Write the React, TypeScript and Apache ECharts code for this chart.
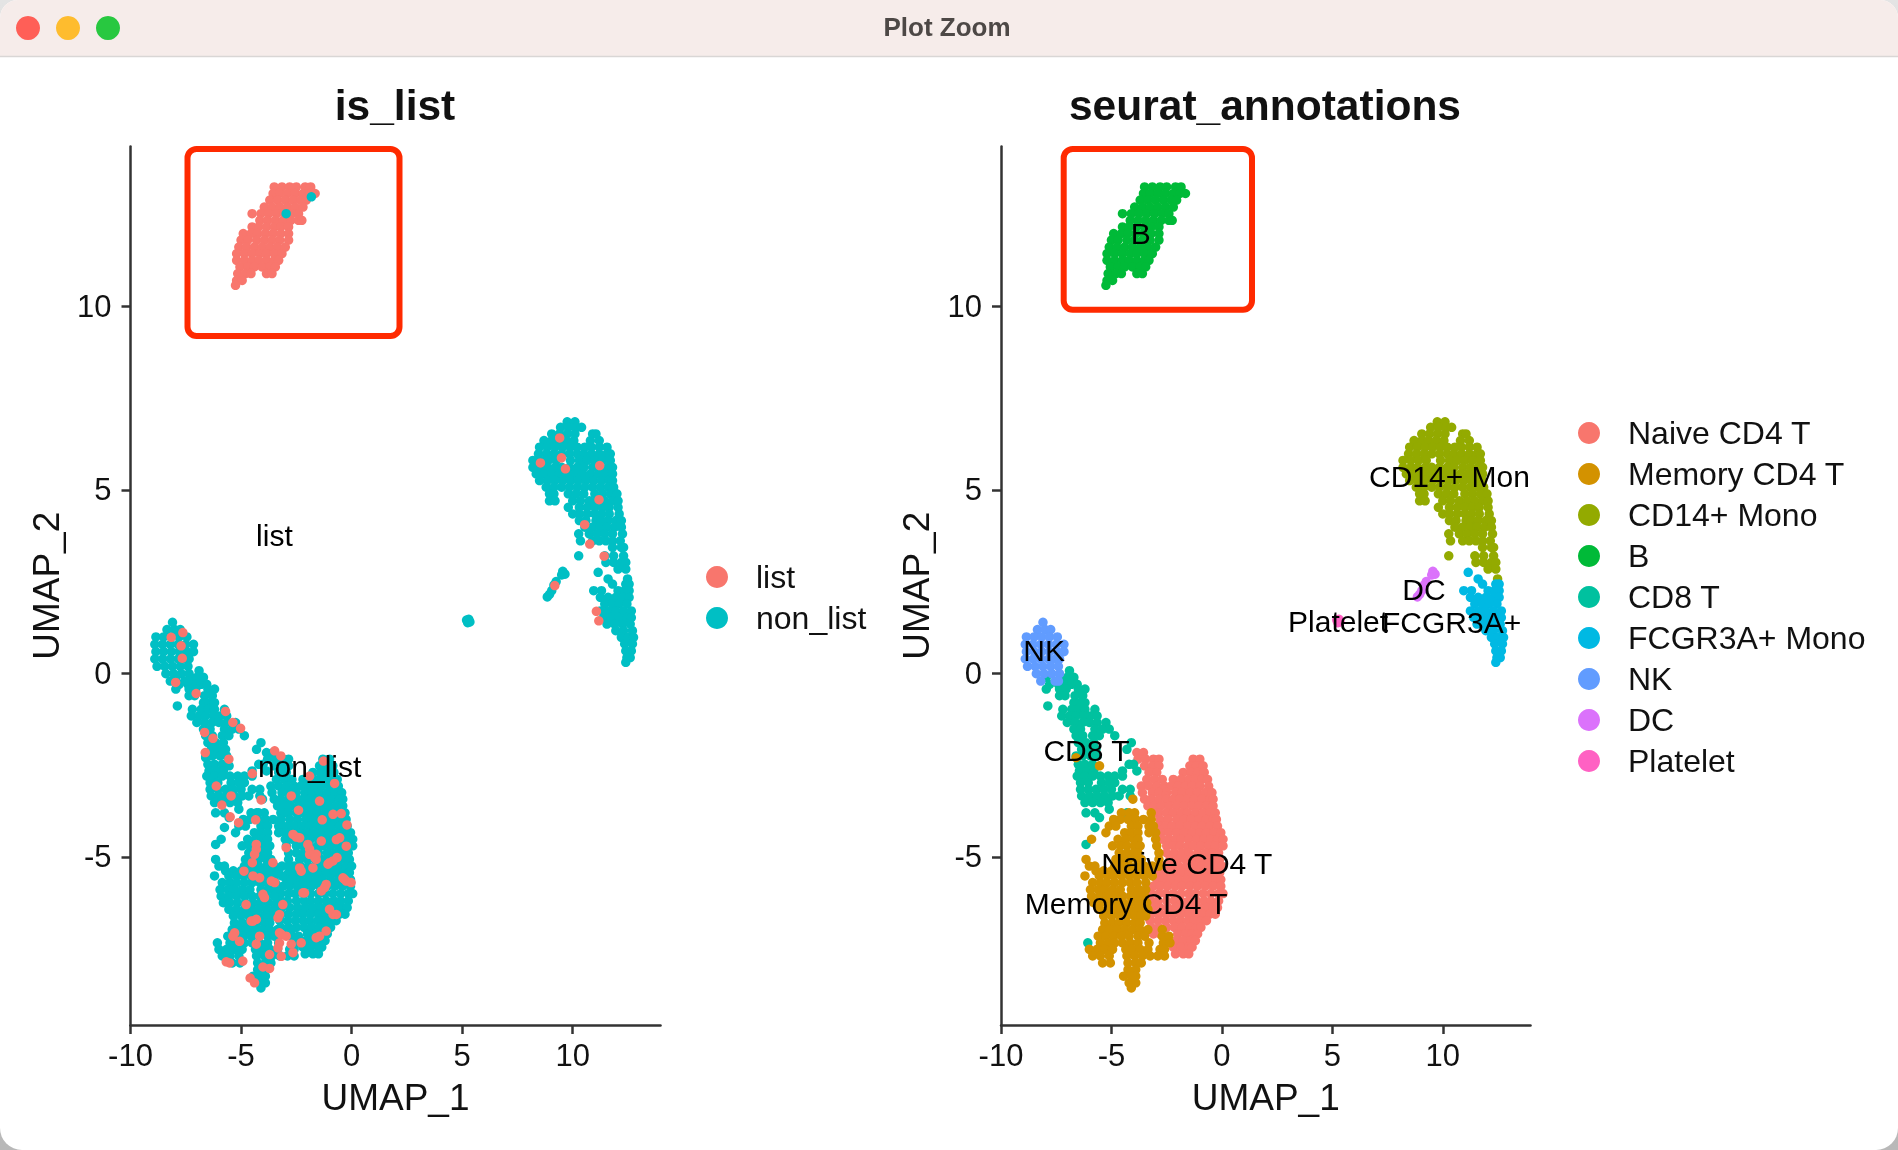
import React, { useEffect, useRef } from "react";
import * as echarts from "echarts";

type Rows = number[][];

// Each row: first number is UMAP_2, the rest are UMAP_1 values of dots read on that row.
const naiveRows: Rows = [
  [-2.16,-3.85,-3.55],
  [-2.34,-3.8,-3.45,-3.1,-2.85,-1.3,-1.0],
  [-2.52,-3.5,-3.15,-2.85,-1.45,-1.15,-0.85],
  [-2.7,-3.3,-2.95,-1.75,-1.4,-1.1,-0.8],
  [-2.89,-3.4,-3.05,-2.7,-2.2,-1.85,-1.5,-1.2,-0.9,-0.65],
  [-3.07,-3.65,-3.3,-2.95,-2.6,-2.3,-2.0,-1.65,-1.35,-1.0,-0.6],
  [-3.16,-2.65],
  [-3.25,-3.6,-3.15,-2.85,-2.5,-2.1,-1.8,-1.45,-1.1,-0.75,-0.45],
  [-3.34,-2.55],
  [-3.43,-3.5,-3.2,-2.85,-2.5,-2.2,-1.9,-1.55,-1.25,-0.9,-0.55,-0.4],
  [-3.61,-3.35,-3.05,-2.75,-2.4,-2.05,-1.7,-1.35,-1.05,-0.7,-0.4],
  [-3.8,-3.0,-2.85,-2.5,-2.2,-1.85,-1.55,-1.2,-0.85,-0.55,-0.3],
  [-3.98,-2.8,-2.45,-2.05,-1.7,-1.4,-1.05,-0.7,-0.4,-0.25],
  [-4.16,-2.85,-2.55,-2.25,-1.9,-1.55,-1.2,-0.9,-0.55,-0.2],
  [-4.34,-2.75,-2.4,-2.05,-1.7,-1.35,-1.0,-0.7,-0.35,-0.05],
  [-4.52,-2.7,-2.4,-2.1,-1.85,-1.5,-1.15,-0.8,-0.5,-0.2,0.05],
  [-4.7,-2.5,-2.2,-1.9,-1.55,-1.3,-0.95,-0.6,-0.3,0.05],
  [-4.89,-2.5,-2.15,-1.8,-1.5,-1.1,-0.75,-0.45,-0.15],
  [-5.07,-2.35,-2.0,-1.65,-1.35,-1.0,-0.7,-0.35,-0.1],
  [-5.25,-2.6,-2.3,-1.95,-1.6,-1.25,-0.9,-0.6,-0.25,0.0],
  [-5.43,-2.85,-2.5,-2.15,-1.8,-1.5,-1.15,-0.8,-0.45,-0.1],
  [-5.62,-2.95,-2.65,-2.3,-1.95,-1.6,-1.3,-0.95,-0.6,-0.25,-0.05],
  [-5.8,-3.1,-2.8,-2.45,-2.1,-1.8,-1.45,-1.1,-0.75,-0.4,-0.05],
  [-6.0,-3.2,-2.85,-2.55,-2.2,-1.85,-1.5,-1.2,-0.85,-0.5,-0.15,0.05],
  [-6.2,-3.2,-2.9,-2.5,-2.15,-1.85,-1.5,-1.15,-0.8,-0.5,-0.15],
  [-6.38,-3.15,-2.8,-2.45,-2.1,-1.75,-1.4,-1.05,-0.7,-0.4,-0.2],
  [-6.56,-3.2,-2.85,-2.5,-2.2,-1.85,-1.5,-1.2,-0.9,-0.55,-0.3],
  [-6.74,-3.25,-2.9,-2.55,-2.2,-1.9,-1.55,-1.25,-0.95,-0.7],
  [-6.92,-3.2,-2.85,-2.5,-2.15,-1.8,-1.45,-1.15,-0.95],
  [-7.1,-3.1,-2.8,-2.0,-1.65,-1.35,-1.1],
  [-7.28,-2.05,-1.75,-1.4,-1.2],
  [-7.46,-2.2,-1.85,-1.5,-1.35],
  [-7.64,-2.1,-1.75,-1.5],
];

const memoryRows: Rows = [
  [-2.3,-6.6],
  [-2.52,-5.54],
  [-3.43,-4.03],
  [-3.8,-4.55,-4.2,-3.95,-3.2],
  [-3.98,-4.9,-4.6,-4.25,-3.9,-3.55,-3.2],
  [-4.16,-5.1,-4.8,-4.1,-3.8,-3.3,-3.1],
  [-4.34,-5.25,-4.4,-4.1,-3.8,-3.3,-3.0],
  [-4.52,-5.9,-4.7,-4.35,-4.0,-3.8,-3.0],
  [-4.7,-4.95,-4.6,-4.3,-3.95,-3.7,-2.95],
  [-4.89,-4.65,-4.3,-4.0,-3.8,-2.85],
  [-5.07,-6.15,-4.8,-4.5,-4.2,-3.85,-3.65,-2.85],
  [-5.25,-6.0,-5.75,-4.85,-4.5,-4.2,-3.85,-3.5,-3.15,-2.85],
  [-5.38,-5.7,-5.35,-5.0,-4.65,-4.3,-3.95,-3.6,-3.3],
  [-5.52,-6.2,-5.55,-5.2,-4.9,-4.55,-4.2,-3.85,-3.5,-3.15],
  [-5.7,-5.85,-5.5,-5.2,-4.85,-4.5,-4.15,-3.85,-3.45],
  [-5.89,-5.95,-5.6,-5.3,-4.95,-4.6,-4.1,-3.75,-3.45],
  [-6.07,-5.9,-5.55,-5.2,-4.85,-4.5,-4.15,-3.85,-3.5],
  [-6.25,-5.8,-5.5,-5.15,-4.8,-4.45,-4.1,-3.75,-3.4],
  [-6.43,-5.55,-5.2,-4.85,-4.55,-4.2,-3.85,-3.5,-3.35],
  [-6.61,-5.35,-5.0,-4.65,-4.3,-3.95,-3.65,-3.45],
  [-6.8,-5.3,-4.95,-4.65,-4.3,-3.95,-3.7],
  [-6.98,-5.4,-5.1,-4.75,-4.4,-4.05,-3.7,-3.35,-2.7],
  [-7.16,-5.6,-5.25,-4.9,-4.55,-4.2,-3.8,-3.5,-2.7,-2.4],
  [-7.34,-5.5,-5.15,-4.85,-4.5,-4.15,-3.8,-3.3,-2.65,-2.35],
  [-7.52,-6.0,-5.65,-5.3,-4.95,-4.35,-4.05,-3.7,-3.35,-2.8,-2.6],
  [-7.7,-5.85,-5.5,-5.1,-4.3,-3.95,-3.6,-3.25,-2.9,-2.6],
  [-7.89,-5.4,-5.05,-4.25,-3.9,-3.65],
  [-8.07,-4.25,-3.9],
  [-8.25,-4.45,-4.1,-3.9],
  [-8.43,-4.2,-3.9],
  [-8.57,-4.1],
];

const cd14Rows: Rows = [
  [6.85,9.75,10.1],
  [6.7,9.45,9.8,10.15,10.4],
  [6.52,9.05,9.4,9.75,10.1,10.9,11.05],
  [6.34,8.7,9.05,9.35,9.7,10.05,10.8,11.2],
  [6.16,8.5,8.85,9.2,9.55,9.9,10.2,10.55,10.85,11.2,11.55],
  [5.98,8.45,8.8,9.15,9.5,9.85,10.2,10.5,10.85,11.2,11.55,11.7],
  [5.8,8.2,8.55,8.9,9.25,9.9,10.3,10.65,11,11.35,11.7],
  [5.61,8.2,8.55,8.85,9.2,9.5,9.85,10.2,10.5,10.9,11.25,11.6,11.8],
  [5.43,8.35,8.7,9.05,9.4,9.75,10.1,10.45,10.8,11.15,11.5,11.8],
  [5.25,8.5,8.85,9.2,9.55,9.9,10.25,10.6,10.95,11.3,11.65,11.8],
  [5.07,8.8,9.15,9.5,9.85,10.2,10.55,10.9,11.25,11.6,11.85],
  [4.89,8.95,9.15,9.8,10.15,10.5,11.0,11.35,11.7,12.0],
  [4.7,8.95,9.2,10.0,10.35,10.75,11.1,11.45,11.8,12.05],
  [4.52,9.8,10.3,10.65,11.0,11.35,11.65,12.05],
  [4.34,10.0,10.3,10.65,11.0,11.3,11.65,12.1],
  [4.16,10.3,10.6,11.05,11.3,11.6,11.95,12.2],
  [3.98,10.55,10.9,11.25,11.55,11.9,12.2],
  [3.8,10.27,10.75,11.1,11.45,11.8,12.25],
  [3.61,10.35,10.9,11.2,11.5,11.8,12.15],
  [3.43,11.8,12.2,12.3],
  [3.2,10.27,11.45,11.85,12.3],
  [3.02,11.5,11.85,12.2,12.4],
  [2.84,12.05,12.4],
  [2.57,12.48],
];

const bRows: Rows = [
  [13.25,-3.5,-3.15,-2.8,-2.5,-2.1,-1.85],
  [13.07,-3.55,-3.25,-2.9,-2.55,-2.2,-1.9,-1.65],
  [12.89,-3.7,-3.35,-3.0,-2.65,-2.3,-2.05],
  [12.7,-3.95,-3.6,-3.25,-2.9,-2.55,-2.2],
  [12.52,-4.5,-4.1,-3.75,-3.4,-3.05,-2.7,-2.4],
  [12.34,-4.15,-3.8,-3.45,-3.1,-2.75,-2.4,-2.25],
  [12.16,-4.5,-4.2,-3.85,-3.5,-3.2,-2.85],
  [11.98,-4.9,-4.55,-4.25,-3.9,-3.55,-3.2,-2.85],
  [11.8,-5.0,-4.7,-4.3,-3.95,-3.6,-3.25,-2.85],
  [11.61,-5.1,-4.75,-4.4,-4.05,-3.7,-3.35,-3.0],
  [11.43,-5.2,-4.85,-4.5,-4.15,-3.85,-3.5,-3.15],
  [11.25,-5.2,-4.85,-4.5,-4.2,-3.85,-3.5,-3.3],
  [11.07,-5.05,-4.7,-4.4,-4.05,-3.7,-3.45],
  [10.89,-5.15,-4.8,-4.55,-3.85,-3.6],
  [10.7,-5.2,-4.95],
  [10.57,-5.25],
];

const cd8Rows: Rows = [
  [0.07,-6.9],
  [-0.11,-7.95,-7.3,-7.0,-6.7],
  [-0.3,-7.8,-7.4,-7.1,-6.8,-6.55],
  [-0.43,-7.95,-7.35,-7.05,-6.5,-6.2],
  [-0.61,-7.35,-7.1,-6.65,-6.3],
  [-0.8,-6.7,-6.45,-6.2],
  [-0.89,-7.88],
  [-0.98,-7.2,-6.8,-6.5,-6.2,-5.75],
  [-1.16,-7.25,-6.9,-6.6,-6.25,-5.95,-5.65],
  [-1.34,-7.0,-6.65,-6.3,-6.0,-5.65,-5.25],
  [-1.52,-6.7,-6.4,-5.75,-5.4,-5.1],
  [-1.7,-6.6,-6.3,-5.85,-5.55,-4.85],
  [-1.89,-6.5,-6.15,-5.8,-4.1],
  [-2.07,-6.35,-6.05,-5.7,-4.3],
  [-2.25,-6.6,-6.3,-5.95,-5.65],
  [-2.48,-6.5,-6.2,-5.85,-4.2,-4.0],
  [-2.66,-6.45,-6.1,-5.8,-4.5,-3.85],
  [-2.8,-6.55,-6.2,-5.85,-5.5,-5.15,-4.85,-4.5],
  [-2.98,-6.4,-6.05,-5.45,-5.1,-4.85],
  [-3.16,-6.4,-6.05,-5.7,-5.35,-5.0,-4.5,-4.15],
  [-3.34,-6.35,-6.0,-5.65,-5.3,-4.95,-4.65,-4.15],
  [-3.52,-6.2,-5.85,-5.5,-5.15],
  [-3.7,-5.1],
  [-3.8,-6.15,-5.75,-4.3],
  [-3.93,-5.54],
  [-4.2,-5.75],
  [-4.66,-6.15],
  [-7.34,-6.07],
];

const fcgrRows: Rows = [
  [2.75,11.15],
  [2.57,11.6],
  [2.43,11.8,12.4,12.55],
  [2.25,10.95,11.3,12.05,12.35,12.55],
  [2.07,11.25,11.6,11.95,12.3,12.55],
  [1.89,11.45,11.8,12.1,12.45],
  [1.7,11.25,11.6,11.95,12.3,12.65],
  [1.52,11.4,11.75,12.1,12.45,12.65],
  [1.34,11.55,11.9,12.25,12.6],
  [1.16,11.95,12.3,12.7],
  [0.98,12.2,12.5,12.75],
  [0.8,12.35,12.7],
  [0.61,12.4,12.65],
  [0.43,12.45,12.6],
  [0.3,12.4],
];

const nkRows: Rows = [
  [1.39,-8.1],
  [1.19,-8.35,-8.0,-7.75],
  [0.99,-8.85,-8.5,-8.15,-7.8,-7.45],
  [0.79,-8.9,-8.55,-8.2,-7.85,-7.5,-7.15],
  [0.59,-8.85,-8.5,-8.15,-7.8,-7.45,-7.15],
  [0.39,-8.9,-8.55,-8.2,-7.85,-7.55,-7.35],
  [0.19,-8.8,-8.45,-8.1,-7.75,-7.4],
  [-0.01,-8.4,-8.05,-7.7,-7.35],
  [-0.21,-8.2,-7.55,-7.4],
];

const dcPoints: number[][] = [[8.85,2.08],[8.95,2.15],[9.05,2.25],[9.15,2.4],[9.25,2.5],[9.5,2.68],[9.55,2.78],[9.65,2.7]];
const plateletPoints: number[][] = [[5.2,1.45],[5.3,1.47],[5.35,1.4],[5.25,1.38]];

const listScattered: number[][] = [
  [-7.71,0.75],[-7.66,0.41],[-7.63,1.11],[-8.16,0.98],[-7.96,-0.25],[-7.03,-0.55],[-5.7,-1.04],[-5.37,-1.34],[-5.02,-1.5],[-6.65,-1.61],
  [-6.27,-1.77],[-6.62,-2.16],[-5.55,-2.34],[-4.49,-2.73],[-3.48,-2.11],[-3.2,-2.25],[-1.27,-2.39],[-1.9,-2.8],[-0.77,-3.0],[-6.12,-3.07],
  [-5.45,-3.34],[-5.87,-3.59],[-4.09,-3.45],[-5.49,-3.91],[-5.11,-4.07],[-2.73,-3.34],[-1.45,-3.48],[-2.4,-3.73],[-0.84,-3.84],[-0.47,-3.82],
  [-1.33,-3.99],[-4.34,-3.99],[-0.21,-4.13],[-2.5,-4.46],[-1.37,-4.57],[-0.69,-4.53],[-4.31,-4.79],[-1.9,-4.79],[-0.24,-4.71],[-1.6,-5.07],
  [-0.84,-5.11],[-1.07,-5.2],[-4.49,-5.16],[-3.56,-5.16],[-4.87,-5.39],[-4.46,-5.52],[-2.28,-5.39],[-3.48,-5.7],[-0.32,-5.61],[-0.02,-5.7],
  [-1.22,-5.84],[-4.01,-6.02],[-2.2,-5.98],[-3.11,-6.3],[-4.77,-6.3],[-0.84,-6.57],[-4.46,-6.75],[-3.33,-6.66],[-5.29,-7.07],[-4.16,-7.16],
  [-3.18,-7.11],[-1.15,-7.02],[-1.6,-7.2],[-4.31,-7.38],[-2.73,-7.38],[-2.28,-7.34],[-3.33,-7.48],[-5.67,-7.86],[-4.92,-7.84],[-3.71,-7.66],
  [-3.18,-7.71],[-2.65,-7.61],[-4.01,-8.0],[-3.71,-8.04],[-4.59,-8.3],[-4.39,-8.43],
  [-1.0,-5.16],[-0.66,-5.02],[-0.54,-4.48],[-1.6,-4.93],[-1.98,-4.66],[-1.15,-5.75],[-1.37,-5.93],[-0.69,-6.57],[-1.0,-6.43],[-1.45,-7.16],
  [-3.26,-6.57],[-4.39,-4.93],[-4.16,-5.57],[-3.63,-5.66],[-3.94,-6.11],[-2.96,-4.75],[-2.65,-4.39],[-2.35,-4.48],[-0.24,-5.66],[-0.39,-5.57],
  [-4.54,-6.75],[-4.31,-6.7],[-2.13,-5.98],[-5.37,-7.16],[-5.07,-7.3],[-5.52,-7.89],[-3.26,-7.07],[-2.96,-7.16],[-3.26,-7.34],[-1.75,-5.3],
  [-1.9,-4.93],[-1.67,-5.02],[-2.35,-5.3],[-4.31,-4.66],
  [9.41,6.41],[9.49,5.87],[9.67,5.57],[8.54,5.73],[11.22,5.66],[11.19,4.73],[10.54,4.05],[10.77,3.52],[11.42,3.19],[9.19,2.39],[11.07,1.69],[11.18,1.43],
];
const nonListInB: number[][] = [[-2.96,12.52],[-1.82,12.98]];

const leftLabels = [
  { name: "list", value: [-3.49, 3.76] },
  { name: "non_list", value: [-1.9, -2.54] },
];
const rightLabels = [
  { name: "B", value: [-3.67, 11.98] },
  { name: "CD14+ Mon", value: [10.3, 5.35] },
  { name: "DC", value: [9.15, 2.28] },
  { name: "Platelet", value: [5.26, 1.42] },
  { name: "FCGR3A+", value: [10.4, 1.39] },
  { name: "NK", value: [-8.05, 0.63] },
  { name: "CD8 T", value: [-6.13, -2.11] },
  { name: "Naive CD4 T", value: [-1.59, -5.18] },
  { name: "Memory CD4 T", value: [-4.33, -6.27] },
];

const xTicks = [-10, -5, 0, 5, 10];
const yTicks = [-5, 0, 5, 10];

const COLORS: Record<string, string> = {
  list: "#F8766D",
  non_list: "#00BFC4",
  "Naive CD4 T": "#F8766D",
  "Memory CD4 T": "#D39200",
  "CD14+ Mono": "#93AA00",
  B: "#00BA38",
  "CD8 T": "#00C19F",
  "FCGR3A+ Mono": "#00B9E3",
  NK: "#619CFF",
  DC: "#DB72FB",
  Platelet: "#FF61C3",
};

const expand = (rows: Rows): number[][] =>
  rows.flatMap((r) => r.slice(1).map((x) => [x, r[0]]));

const FONT = '"Liberation Sans", Arial, sans-serif';
const DOT = 9.5;
const INK = "#111";

const axes = (grid: number) => {
  const line = { lineStyle: { color: "#333", width: 2.5 } };
  return {
    x: {
      type: "value", gridIndex: grid, min: -10, max: 13.97, interval: 5,
      name: "UMAP_1", nameLocation: "middle", nameGap: 54,
      nameTextStyle: { fontFamily: FONT, fontSize: 37, color: INK },
      axisLine: { show: true, onZero: false, ...line },
      axisTick: { show: true, length: 9, customValues: xTicks, ...line },
      axisLabel: { fontFamily: FONT, fontSize: 31, color: INK, margin: 15, customValues: xTicks },
      splitLine: { show: false },
    },
    y: {
      type: "value", gridIndex: grid, min: -9.58, max: 14.35,
      name: "UMAP_2", nameLocation: "middle", nameGap: 66,
      nameTextStyle: { fontFamily: FONT, fontSize: 37, color: INK },
      axisLine: { show: true, onZero: false, ...line },
      axisTick: { show: true, length: 9, customValues: yTicks, ...line },
      axisLabel: { fontFamily: FONT, fontSize: 31, color: INK, margin: 19, padding: [6, 0, 0, 0], customValues: yTicks },
      splitLine: { show: false },
    },
  };
};

const dots = (name: string, data: number[][], grid: number, color?: string) => ({
  type: "scatter", name, data, xAxisIndex: grid, yAxisIndex: grid,
  symbol: "circle", symbolSize: DOT, itemStyle: { color: color ?? COLORS[name], opacity: 1 },
  silent: true, clip: false,
});

const labels = (data: { name: string; value: number[] }[], grid: number) => ({
  type: "scatter", name: "labels" + grid, data, xAxisIndex: grid, yAxisIndex: grid,
  symbolSize: 0, silent: true, z: 5, clip: false,
  label: { show: true, position: "inside", formatter: "{b}", fontFamily: FONT, fontSize: 30, color: "#000", opacity: 1 },
});

const legendBase = {
  orient: "vertical", icon: "circle", itemWidth: 22, itemHeight: 22, itemGap: 9,
  textStyle: { fontFamily: FONT, fontSize: 32, color: INK, padding: [0, 0, 0, 23], lineHeight: 32 },
  selectedMode: false,
};

export default function App() {
  const ref = useRef<HTMLDivElement>(null);
  useEffect(() => {
    const chart = echarts.init(ref.current!, undefined, { renderer: "svg" });
    const naive = expand(naiveRows), memory = expand(memoryRows), cd14 = expand(cd14Rows),
      b = expand(bRows), cd8 = expand(cd8Rows), fcgr = expand(fcgrRows), nk = expand(nkRows);
    const nonList = [...naive, ...memory, ...cd14, ...cd8, ...fcgr, ...nk, ...dcPoints, ...plateletPoints];
    const a0 = axes(0), a1 = axes(1);
    const titleStyle = { fontFamily: FONT, fontSize: 42.5, fontWeight: "bold", color: "#111" };
    chart.setOption({
      animation: false,
      title: [
        { text: "is_list", left: 390, top: 79, textAlign: "center", textStyle: titleStyle },
        { text: "seurat_annotations", left: 1260, top: 79, textAlign: "center", textStyle: titleStyle },
      ],
      grid: [
        { left: 130.5, width: 530, top: 146.5, height: 878.5 },
        { left: 1001, width: 529.5, top: 146.5, height: 878.5 },
      ],
      xAxis: [a0.x, a1.x],
      yAxis: [a0.y, a1.y],
      legend: [
        { ...legendBase, left: 701, top: 556, data: ["list", "non_list"] },
        { ...legendBase, left: 1573, top: 412, data: ["Naive CD4 T", "Memory CD4 T", "CD14+ Mono", "B", "CD8 T", "FCGR3A+ Mono", "NK", "DC", "Platelet"] },
      ],
      series: [
        dots("non_list", nonList, 0),
        dots("list", [...b, ...listScattered], 0),
        dots("non_list", nonListInB, 0),
        labels(leftLabels, 0),
        dots("Naive CD4 T", naive, 1),
        dots("CD14+ Mono", cd14, 1),
        dots("B", b, 1),
        dots("CD8 T", cd8, 1),
        dots("FCGR3A+ Mono", fcgr, 1),
        dots("NK", nk, 1),
        dots("DC", dcPoints, 1),
        dots("Platelet", plateletPoints, 1),
        dots("Memory CD4 T", memory, 1),
        labels(rightLabels, 1),
      ],
      graphic: [
        {
          type: "rect", shape: { x: 0, y: 0, width: 1898, height: 1150 }, silent: true, z: -30,
          style: { fill: new echarts.graphic.LinearGradient(0, 0, 0, 1, [{ offset: 0, color: "#e4e4e4" }, { offset: 1, color: "#b8b8b8" }]) },
        },
        { type: "rect", shape: { x: 0, y: 0, width: 1898, height: 1150, r: [18, 18, 22, 22] }, style: { fill: "#fff" }, silent: true, z: -25 },
        { type: "rect", shape: { x: 0, y: 0, width: 1898, height: 56, r: [18, 18, 0, 0] }, style: { fill: "#f6ecea" }, silent: true, z: -10 },
        { type: "line", shape: { x1: 0, y1: 56.5, x2: 1898, y2: 56.5 }, style: { stroke: "#d9d6d5", lineWidth: 1.5 }, silent: true, z: -10 },
        { type: "circle", shape: { cx: 28, cy: 28, r: 12 }, style: { fill: "#ff5f57" }, silent: true },
        { type: "circle", shape: { cx: 68, cy: 28, r: 12 }, style: { fill: "#febc2e" }, silent: true },
        { type: "circle", shape: { cx: 108, cy: 28, r: 12 }, style: { fill: "#28c840" }, silent: true },
        { type: "text", x: 947, y: 27, style: { text: "Plot Zoom", fontFamily: FONT, fontSize: 26, fontWeight: "bold", fill: "#4d4846", textAlign: "center", textVerticalAlign: "middle" }, silent: true },
        { type: "rect", shape: { x: 187.5, y: 149, width: 212, height: 187, r: 9 }, style: { fill: "none", stroke: "#ff2a00", lineWidth: 6 }, silent: true, z: 10 },
        { type: "rect", shape: { x: 1063.7, y: 149, width: 188.3, height: 160.7, r: 9 }, style: { fill: "none", stroke: "#ff2a00", lineWidth: 6 }, silent: true, z: 10 },
      ],
    });
    return () => chart.dispose();
  }, []);
  return (
    <div
      ref={ref}
      style={{ position: "absolute", left: 0, top: 0, width: 1898, height: 1150, filter: "blur(0.6px)" }}
    />
  );
}
